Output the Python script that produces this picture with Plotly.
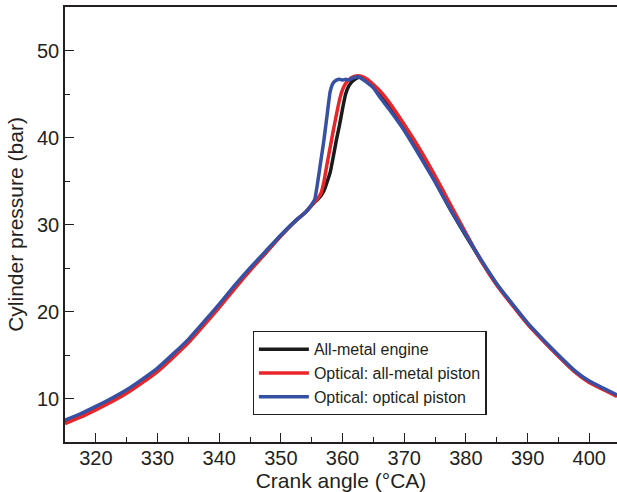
import plotly.graph_objects as go

crank_angle = [315, 317.5, 320, 322.5, 325, 327.5, 330, 332.5, 335, 337.5, 340, 342.5, 345, 347.5,
               350, 352.5, 354, 355, 355.5, 356, 356.5, 357, 357.5, 358, 358.5, 359, 359.5, 360,
               360.5, 361, 361.5, 362, 362.5, 363, 364, 365, 366, 367.5, 370, 372.5, 375, 377.5,
               380, 382.5, 385, 387.5, 390, 392.5, 395, 397.5, 400, 402.5, 404.5]

p_optical_piston = [7.5, 8.25, 9.1, 10.0, 11.0, 12.2, 13.5, 15.1, 16.8, 18.8, 20.85, 23.0, 25.0, 26.9,
                    28.8, 30.5, 31.4, 32.3, 32.9, 35.0, 37.4, 39.8, 42.6, 45.3, 46.3, 46.6, 46.7, 46.6,
                    46.7, 46.6, 46.8, 46.9, 47.0, 46.8, 46.3, 45.7, 44.7, 43.3, 40.8, 37.9, 34.9, 31.7,
                    28.8, 25.9, 23.2, 20.9, 18.7, 16.8, 15.0, 13.3, 12.0, 11.1, 10.4]

p_metal_piston = [7.1, 7.85, 8.7, 9.6, 10.6, 11.8, 13.1, 14.7, 16.4, 18.4, 20.45, 22.6, 24.7, 26.7,
                  28.7, 30.5, 31.4, 32.2, 32.6, 33.0, 33.6, 35.0, 37.0, 38.9, 40.8, 42.6, 44.3, 45.5,
                  46.2, 46.6, 46.9, 47.05, 47.1, 47.05, 46.7, 46.1, 45.4, 44.1, 41.5, 38.7, 35.6, 32.3,
                  29.0, 25.8, 23.05, 20.75, 18.55, 16.65, 14.85, 13.15, 11.85, 10.95, 10.25]

p_all_metal = [7.3, 8.05, 8.9, 9.8, 10.8, 12.0, 13.3, 14.9, 16.6, 18.6, 20.65, 22.8, 24.8, 26.7,
               28.7, 30.5, 31.4, 32.2, 32.6, 32.9, 33.3, 33.9, 34.9, 36.0, 37.8, 39.7, 41.4, 43.3,
               45.0, 45.9, 46.4, 46.7, 46.9, 46.9, 46.5, 45.8, 44.9, 43.6, 41.0, 38.1, 35.0, 31.7,
               28.7, 25.8, 23.1, 20.8, 18.6, 16.7, 14.9, 13.2, 11.9, 11.0, 10.3]

series_names = ["All-metal engine", "Optical: all-metal piston", "Optical: optical piston"]
series_values = [p_all_metal, p_metal_piston, p_optical_piston]
series_colors = ["#1a1a1a", "#e8262a", "#3651a3"]

x_ticks = [320, 330, 340, 350, 360, 370, 380, 390, 400]
y_ticks = [10, 20, 30, 40, 50]

fig = go.Figure()
for name, vals, col in zip(series_names, series_values, series_colors):
    fig.add_trace(go.Scatter(x=crank_angle, y=vals, mode="lines", name=name,
                             line=dict(color=col, width=3.5, shape="spline", smoothing=0.4)))

font_family = "Liberation Sans, Arial, Helvetica, sans-serif"
fig.update_layout(
    width=617, height=492,
    margin=dict(l=65, r=0, t=7, b=50),
    paper_bgcolor="white", plot_bgcolor="white",
    font=dict(family=font_family, color="#231f20"),
    showlegend=True,
    legend=dict(x=0.34, y=0.255, xanchor="left", yanchor="top",
                bordercolor="#231f20", borderwidth=1.2, bgcolor="white",
                font=dict(size=16, family=font_family, color="#231f20"),
                itemwidth=50, tracegroupgap=0),
    xaxis=dict(range=[315, 404.5], tickvals=x_ticks, ticks="inside", ticklen=9, tickwidth=1.2,
               tickcolor="#231f20", showline=True, linecolor="#231f20", linewidth=1.5, mirror=True,
               showgrid=False, zeroline=False, tickfont=dict(size=20), ticklabelstandoff=-3,
               minor=dict(dtick=5, tick0=315, ticks="inside", ticklen=5, tickcolor="#231f20", showgrid=False),
               title=dict(text="Crank angle (°CA)", font=dict(size=21), standoff=6)),
    yaxis=dict(range=[5, 55], tickvals=y_ticks, ticks="inside", ticklen=9, tickwidth=1.2,
               tickcolor="#231f20", showline=True, linecolor="#231f20", linewidth=1.5,
               showgrid=False, zeroline=False, tickfont=dict(size=20),
               minor=dict(dtick=5, tick0=5, ticks="inside", ticklen=5, tickcolor="#231f20", showgrid=False),
               title=dict(text="Cylinder pressure (bar)", font=dict(size=21), standoff=8)),
)

fig.write_html("out.html")
